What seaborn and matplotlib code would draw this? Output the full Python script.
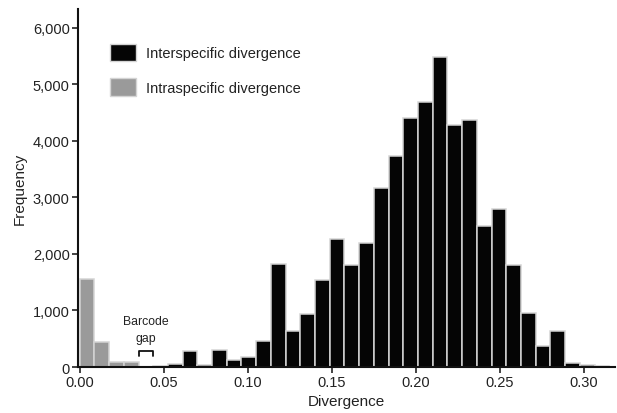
"""Histogram of intra- and interspecific divergence with the barcode gap."""
import numpy as np
import pandas as pd
import matplotlib
matplotlib.use('Agg')
import matplotlib.pyplot as plt
from matplotlib.patches import Patch
from matplotlib.ticker import FuncFormatter
import seaborn as sns

# bin width (36 bins between 0 and 0.315)
bin_width = 0.00875
n_bins = 36

# counts per bin index
intra_bins = [0, 1, 2, 3]
intra_counts = [1560, 450, 90, 90]

inter_bins = list(range(5, 36))
inter_counts = [20, 60, 290, 40, 300, 130, 180, 460, 1820, 630,
                940, 1540, 2270, 1800, 2190, 3165, 3725, 4410, 4680, 5480,
                4280, 4375, 2500, 2790, 1805, 960, 380, 640, 80, 40,
                20]

gap_bin = 4

labels = ['Interspecific divergence', 'Intraspecific divergence']
colors = {'Interspecific divergence': '#050505',
          'Intraspecific divergence': '#9a9a9a'}

x_ticks = [0.00, 0.05, 0.10, 0.15, 0.20, 0.25, 0.30]
y_ticks = [0, 1000, 2000, 3000, 4000, 5000, 6000]

edges = [k * bin_width for k in range(n_bins + 1)]

rows = []
for k, c in zip(inter_bins, inter_counts):
    rows.append({'Divergence': (k + 0.5) * bin_width, 'Count': c, 'Type': labels[0]})
for k, c in zip(intra_bins, intra_counts):
    rows.append({'Divergence': (k + 0.5) * bin_width, 'Count': c, 'Type': labels[1]})
df = pd.DataFrame(rows)

sns.set_theme(style='ticks')
plt.rcParams['font.family'] = ['Liberation Sans', 'DejaVu Sans']

fig = plt.figure(figsize=(6.17, 4.14), dpi=100)
ax = fig.add_axes([0.1264, 0.111, 0.8706, 0.865])

sns.histplot(data=df, x='Divergence', weights='Count', hue='Type', bins=edges,
             multiple='layer', palette=colors, alpha=1, edgecolor='#d4d4d4',
             linewidth=1.1, legend=False, ax=ax)

ax.set_xlim(-0.001, 0.3185)
ax.set_ylim(0, 6330)
ax.set_xticks(x_ticks)
ax.set_yticks(y_ticks)
ax.xaxis.set_major_formatter(FuncFormatter(lambda v, p: f'{v:.2f}'))
ax.yaxis.set_major_formatter(FuncFormatter(lambda v, p: f'{int(v):,}'))
ax.tick_params(axis='both', direction='out', length=4, width=1.2,
               labelsize=10.5, labelcolor='#222222', color='#222222', pad=2)
for side in ['left', 'bottom']:
    ax.spines[side].set_linewidth(1.5)
    ax.spines[side].set_color('#111111')
sns.despine(ax=ax)

ax.set_xlabel('Divergence', fontsize=11, color='#222222', labelpad=3)
ax.set_ylabel('Frequency', fontsize=11, color='#222222', labelpad=4)

# barcode gap bracket over the empty bin
g0 = gap_bin * bin_width + 0.0002
g1 = (gap_bin + 1) * bin_width - 0.0002
ax.plot([g0, g0, g1, g1], [190, 280, 280, 190], color='#111111', lw=1.3)
ax.text((g0 + g1) / 2, 400, 'Barcode\ngap', ha='center', va='bottom',
        fontsize=8.8, color='#222222', linespacing=1.6)

handles = [Patch(facecolor=colors[l], edgecolor='#d4d4d4', label=l) for l in labels]
ax.legend(handles=handles, loc='upper left', bbox_to_anchor=(0.035, 0.94),
          frameon=False, fontsize=10.5, handlelength=1.8, handleheight=1.45,
          labelspacing=1.2, handletextpad=0.7, labelcolor='#222222')

fig.savefig('out.png', dpi=100)
